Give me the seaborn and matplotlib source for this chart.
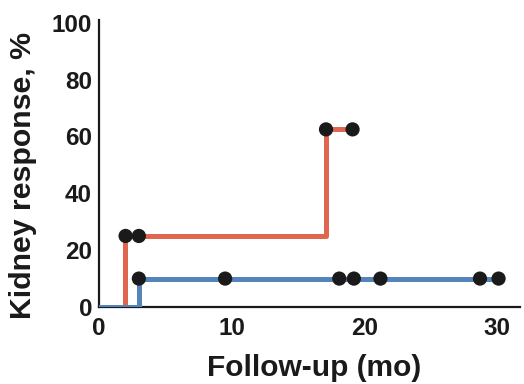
import matplotlib
matplotlib.use("Agg")
import matplotlib.pyplot as plt
import seaborn as sns
import pandas as pd

# Step curves (time in months, cumulative kidney response %)
red_times = [0, 1.95, 17.1, 19.1]
red_values = [0, 25, 62.5, 62.5]
blue_times = [0, 3.0, 30.1]
blue_values = [0, 10, 10]

# Censoring markers
red_censor_times = [2.0, 3.0, 17.1, 19.1]
red_censor_values = [25, 25, 62.5, 62.5]
blue_censor_times = [3.0, 9.5, 18.1, 19.2, 21.2, 28.7, 30.1]
blue_censor_values = [10, 10, 10, 10, 10, 10, 10]

x_ticks = [0, 10, 20, 30]
y_ticks = [0, 20, 40, 60, 80, 100]

sns.set_theme(style="ticks")
plt.rcParams['font.family'] = ['Liberation Sans', 'DejaVu Sans']

RED = "#E0664F"
BLUE = "#5583BC"
INK = "#1a1a1a"

fig = plt.figure(figsize=(5.24, 3.84), dpi=100)
ax = fig.add_axes([0.189, 0.2005, 0.803, 0.7475])

red_df = pd.DataFrame({"t": red_times, "v": red_values})
blue_df = pd.DataFrame({"t": blue_times, "v": blue_values})
sns.lineplot(data=red_df, x="t", y="v", drawstyle="steps-post", color=RED,
             linewidth=3.6, sort=False, ax=ax, zorder=2)
sns.lineplot(data=blue_df, x="t", y="v", drawstyle="steps-post", color=BLUE,
             linewidth=3.6, sort=False, ax=ax, zorder=3)

cens = pd.DataFrame({
    "t": red_censor_times + blue_censor_times,
    "v": red_censor_values + blue_censor_values,
})
sns.scatterplot(data=cens, x="t", y="v", color=INK, s=105,
                edgecolor="none", ax=ax, zorder=4, clip_on=False)

ax.set_xlim(0, 31.7)
ax.set_ylim(0, 101)
ax.set_xticks(x_ticks)
ax.set_yticks(y_ticks)
ax.tick_params(axis="x", length=0, labelsize=17.5, pad=7)
ax.tick_params(axis="y", length=0, labelsize=17.5, pad=5)
for lab in ax.get_xticklabels() + ax.get_yticklabels():
    lab.set_fontweight("bold")
    lab.set_color(INK)

for side in ["top", "right"]:
    ax.spines[side].set_visible(False)
for side in ["left", "bottom"]:
    ax.spines[side].set_linewidth(1.6)
    ax.spines[side].set_color(INK)

ax.set_xlabel("Follow-up (mo)", fontsize=21.5, fontweight="bold", color=INK)
ax.set_ylabel("Kidney response, %", fontsize=21.8, fontweight="bold", color=INK)
ax.xaxis.set_label_coords(0.512, -0.162)
ax.yaxis.set_label_coords(-0.147, 0.458)

fig.savefig("out.png", dpi=100)
